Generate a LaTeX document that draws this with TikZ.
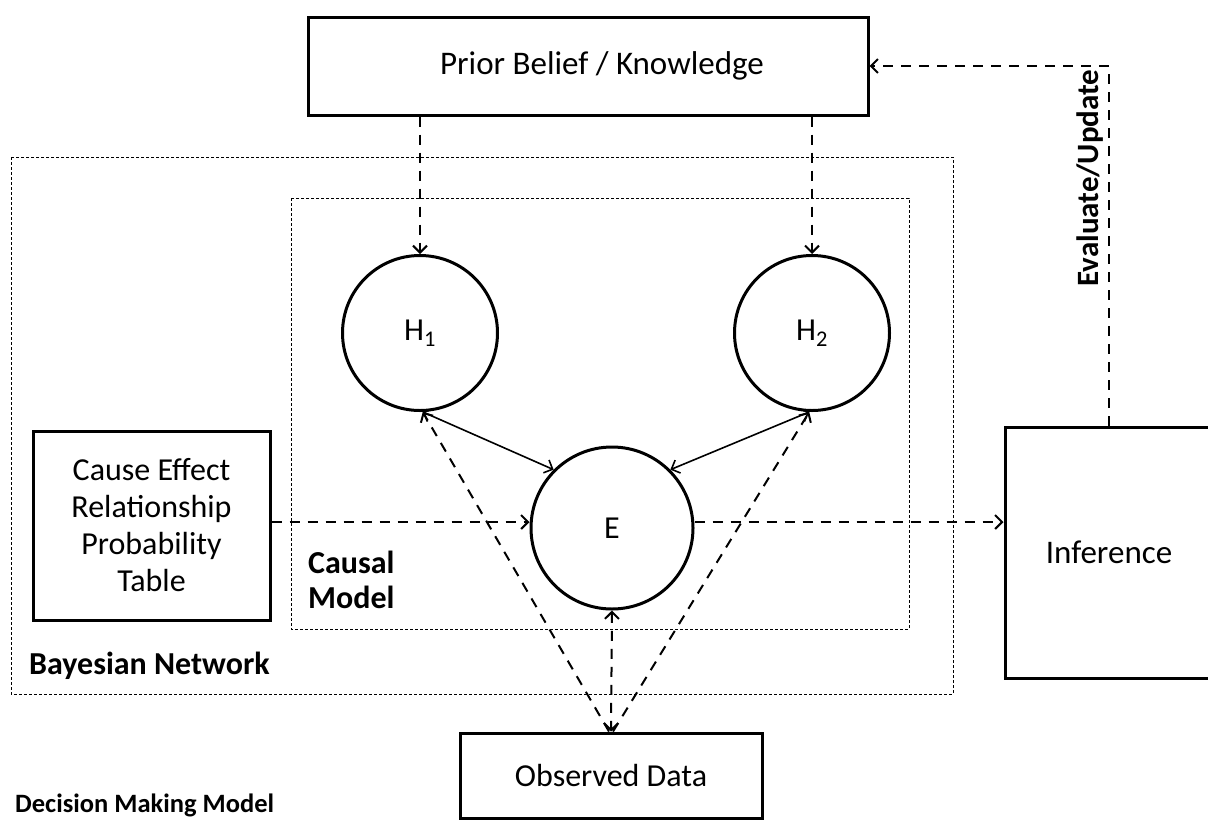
\documentclass[tikz,border=0pt]{standalone}
\usepackage{fontspec}
\setmainfont{Carlito}
\usetikzlibrary{arrows.meta}
\tikzset{
  barb/.tip={Straight Barb[length=7pt,width=14pt,line width=2pt]},
  thinbarb/.tip={Straight Barb[length=7pt,width=14pt,line width=1.6pt]}}
\begin{document}
\begin{tikzpicture}[x=1pt,y=-1pt,
  every node/.style={font=\fontsize{32}{37}\selectfont},
  box/.style={draw,line width=3pt,rectangle,inner sep=0pt},
  ball/.style={draw,line width=3pt,circle,inner sep=0pt},
  frame/.style={line width=1pt,dash pattern=on 3pt off 2pt},
  link/.style={line width=2pt,dash pattern=on 10pt off 8pt,-barb},
  solidlink/.style={line width=1.6pt,thinbarb-thinbarb},
  tag/.style={font=\fontsize{32}{35}\selectfont\bfseries,anchor=west,align=left,inner sep=0pt}]
\useasboundingbox (0,0) rectangle (1208,823);

% enclosing frames
\draw[frame] (11,157) rectangle (953,694);
\draw[frame] (291,198) rectangle (909,629);

% boxes
\node[box,minimum width=560pt,minimum height=98pt,font=\fontsize{33}{37}\selectfont] (prior) at (588,66)
  {\hspace*{28pt}Prior Belief / Knowledge};
\node[box,minimum width=237pt,minimum height=189pt,align=center] (cause) at (151.5,525.5)
  {Cause Effect\\Relationship\\Probability\\Table};
\node[box,minimum width=208pt,minimum height=251pt,font=\fontsize{33}{37}\selectfont] (infer) at (1109,552.5) {Inference};
\node[box,minimum width=302pt,minimum height=85pt] (obs) at (611,775.5) {Observed Data};

% hypothesis and evidence nodes
\node[ball,minimum size=155pt] (H1) at (420,333) {H\textsubscript{1}};
\node[ball,minimum size=155pt] (H2) at (812,333) {H\textsubscript{2}};
\node[ball,minimum size=162pt] (E) at (612,528) {E};

% labels
\node[tag] (causal) at (308,580) {Causal\\Model};
\node[tag] (bn) at (29,666) {Bayesian Network};
\node[tag,font=\fontsize{26.5}{30}\selectfont\bfseries] (dm) at (15,805) {Decision Making Model};
\node[font=\fontsize{31}{34}\selectfont\bfseries,rotate=90,inner sep=0pt] (eval) at (1090,178) {Evaluate/Update};

% connectors
\draw[link] (H1 |- prior.south) -- (H1.north);
\draw[link] (H2 |- prior.south) -- (H2.north);
\draw[link] (infer.north) |- (prior.east);
\draw[link] (cause.east |- 0,522) coordinate (c1) -- (c1 -| E.west);
\draw[link] (E.east |- 0,522) coordinate (e1) -- (e1 -| infer.west);
\draw[solidlink] (H1.-88) -- (E.135);
\draw[solidlink] (H2.-92) -- (E.45);
\draw[link] ([xshift=-2pt]obs.north) -- (H1.-88);
\draw[link] ([xshift=2pt]obs.north) -- (H2.-92);
\draw[link,barb-barb] (E.south) -- (obs.north);
\end{tikzpicture}
\end{document}
